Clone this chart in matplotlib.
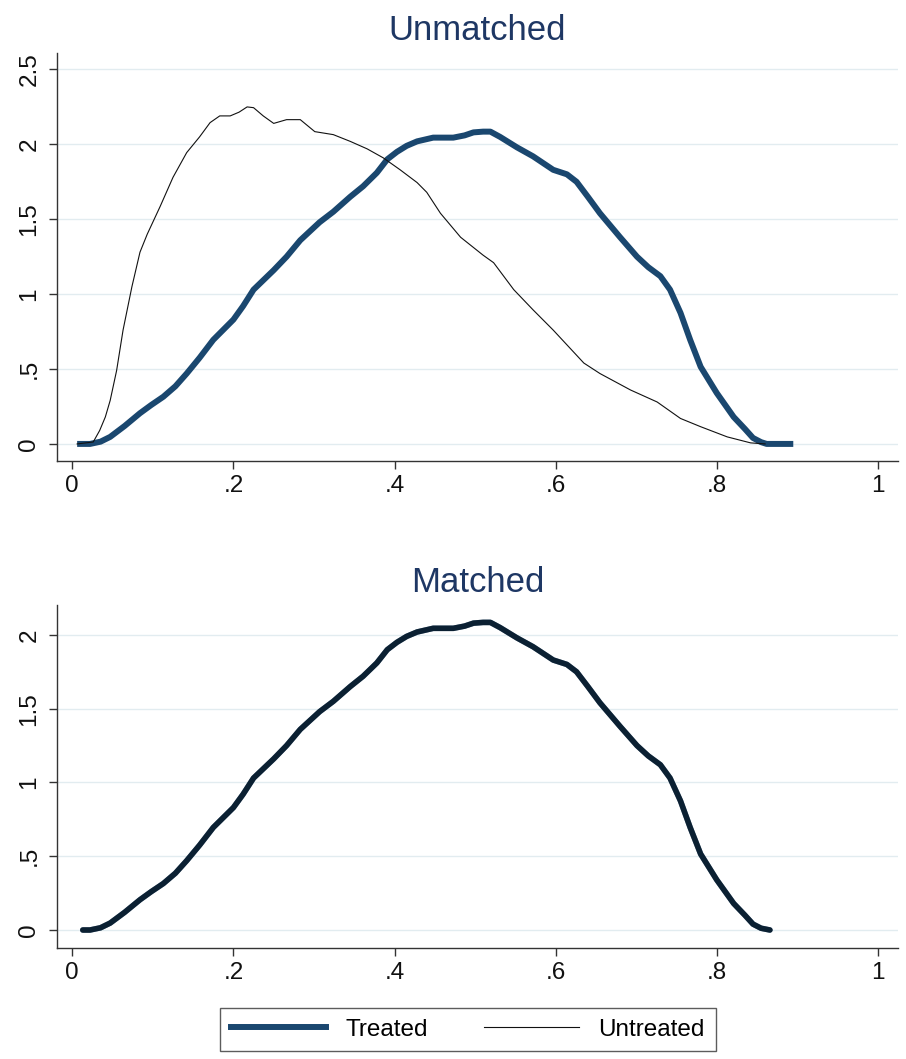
import matplotlib
matplotlib.use("Agg")
import matplotlib.pyplot as plt
from matplotlib.lines import Line2D

plt.rcParams['font.family'] = ['Liberation Sans', 'DejaVu Sans']

# ---- data ----
treated_x = [0.006, 0.022, 0.035, 0.047, 0.065, 0.084, 0.098, 0.113, 0.128, 0.142, 0.158,
             0.175, 0.2, 0.212, 0.225, 0.25, 0.266, 0.283, 0.307, 0.324, 0.345, 0.361,
             0.378, 0.391, 0.403, 0.415, 0.428, 0.448, 0.473, 0.487, 0.498, 0.51, 0.519,
             0.531, 0.552, 0.572, 0.597, 0.614, 0.626, 0.64, 0.655, 0.68, 0.701, 0.715,
             0.73, 0.742, 0.755, 0.767, 0.78, 0.8, 0.821, 0.835, 0.845, 0.855, 0.862,
             0.875, 0.895]
treated_y = [0.0, 0.0, 0.015, 0.047, 0.12, 0.205, 0.26, 0.315, 0.385, 0.47, 0.575,
             0.695, 0.83, 0.92, 1.03, 1.16, 1.25, 1.36, 1.48, 1.55, 1.65, 1.72,
             1.81, 1.9, 1.95, 1.99, 2.02, 2.045, 2.045, 2.06, 2.08, 2.085, 2.085,
             2.05, 1.98, 1.92, 1.83, 1.80, 1.75, 1.65, 1.54, 1.38, 1.25, 1.18,
             1.12, 1.03, 0.875, 0.695, 0.515, 0.34, 0.18, 0.1, 0.04, 0.012, 0.0,
             0.0, 0.0]

untreated_x = [0.006, 0.026, 0.034, 0.041, 0.047, 0.055, 0.063, 0.074, 0.084, 0.093, 0.109,
               0.125, 0.142, 0.158, 0.171, 0.183, 0.196, 0.207, 0.217, 0.225, 0.237,
               0.25, 0.266, 0.283, 0.301, 0.324, 0.345, 0.366, 0.386, 0.407, 0.428,
               0.44, 0.457, 0.482, 0.51, 0.523, 0.548, 0.572, 0.597, 0.635, 0.655,
               0.693, 0.726, 0.755, 0.78, 0.813, 0.842, 0.86]
untreated_y = [0.0, 0.013, 0.09, 0.18, 0.29, 0.49, 0.76, 1.05, 1.28, 1.40, 1.585,
               1.78, 1.945, 2.05, 2.145, 2.19, 2.19, 2.215, 2.25, 2.245, 2.19,
               2.14, 2.165, 2.165, 2.085, 2.065, 2.02, 1.97, 1.91, 1.83, 1.745,
               1.68, 1.54, 1.38, 1.26, 1.21, 1.03, 0.895, 0.76, 0.54, 0.47,
               0.36, 0.28, 0.17, 0.115, 0.047, 0.007, 0.0]

matched_x = [0.013, 0.022, 0.035, 0.047, 0.065, 0.084, 0.098, 0.113, 0.128, 0.142, 0.158,
             0.175, 0.2, 0.212, 0.225, 0.25, 0.266, 0.283, 0.307, 0.324, 0.345, 0.361,
             0.378, 0.391, 0.403, 0.415, 0.428, 0.448, 0.473, 0.487, 0.498, 0.51, 0.519,
             0.531, 0.552, 0.572, 0.597, 0.614, 0.626, 0.64, 0.655, 0.68, 0.701, 0.715,
             0.73, 0.742, 0.755, 0.767, 0.78, 0.8, 0.821, 0.835, 0.845, 0.855, 0.866]
matched_y = [0.0, 0.0, 0.015, 0.047, 0.12, 0.205, 0.26, 0.315, 0.385, 0.47, 0.575,
             0.695, 0.83, 0.92, 1.03, 1.16, 1.25, 1.36, 1.48, 1.55, 1.65, 1.72,
             1.81, 1.9, 1.95, 1.99, 2.02, 2.045, 2.045, 2.06, 2.08, 2.085, 2.085,
             2.05, 1.98, 1.92, 1.83, 1.80, 1.75, 1.65, 1.54, 1.38, 1.25, 1.18,
             1.12, 1.03, 0.875, 0.695, 0.515, 0.34, 0.18, 0.1, 0.04, 0.012, 0.0]

x_ticks = [0, 0.2, 0.4, 0.6, 0.8, 1.0]
x_ticklabels = ["0", ".2", ".4", ".6", ".8", "1"]
y_ticks_top = [0, 0.5, 1, 1.5, 2, 2.5]
y_ticklabels_top = ["0", ".5", "1", "1.5", "2", "2.5"]
y_ticks_bot = [0, 0.5, 1, 1.5, 2]
y_ticklabels_bot = ["0", ".5", "1", "1.5", "2"]
titles = ["Unmatched", "Matched"]
series_names = ["Treated", "Untreated"]

# ---- style ----
BLUE = '#1a476f'
TITLE_C = '#1e3764'
GRID_C = '#e2ecf0'
AX_C = '#333333'
FS = 17.5

fig = plt.figure(figsize=(9.06, 10.59), dpi=100)
ax1 = fig.add_axes([57/906, 1-461/1059, (898-57)/906, (461-53)/1059])
ax2 = fig.add_axes([57/906, 1-948/1059, (898-57)/906, (948-605)/1059])

def style(ax, yticks, ylabels, ylim, title):
    ax.set_xlim(-0.019, 1.025)
    ax.set_ylim(*ylim)
    ax.set_xticks(x_ticks)
    ax.set_xticklabels(x_ticklabels)
    ax.set_yticks(yticks)
    ax.set_yticklabels(ylabels, rotation=90, va='center')
    for s in ['top', 'right']:
        ax.spines[s].set_visible(False)
    for s in ['left', 'bottom']:
        ax.spines[s].set_color(AX_C)
        ax.spines[s].set_linewidth(1.0)
    ax.tick_params(axis='both', direction='out', length=6, width=1.0,
                   color=AX_C, labelsize=FS, labelcolor='#111111')
    ax.tick_params(axis='y', pad=6)
    ax.tick_params(axis='x', pad=4)
    ax.grid(axis='y', color=GRID_C, linewidth=1.0)
    ax.set_axisbelow(True)
    ax.set_title(title, fontsize=25, color=TITLE_C, pad=9)

style(ax1, y_ticks_top, y_ticklabels_top, (-0.114, 2.61), titles[0])
style(ax2, y_ticks_bot, y_ticklabels_bot, (-0.122, 2.203), titles[1])

ax1.plot(treated_x, treated_y, color=BLUE, lw=4.3, solid_capstyle='butt', zorder=3)
ax1.plot(untreated_x, untreated_y, color='#111111', lw=0.8, zorder=4)

ax2.plot(matched_x, matched_y, color=BLUE, lw=4.0, solid_capstyle='round', zorder=3)
ax2.plot(matched_x, matched_y, color='#000000', lw=4.0, alpha=0.55,
         solid_capstyle='round', zorder=4)

handles = [Line2D([], [], color=BLUE, lw=4.3),
           Line2D([], [], color='#111111', lw=0.8)]
leg = fig.legend(handles, series_names, loc='center', ncol=2,
                 bbox_to_anchor=(468/906, 1-1029.5/1059),
                 fontsize=FS, frameon=True, fancybox=False,
                 handlelength=3.9, handletextpad=0.8, columnspacing=2.3,
                 borderpad=0.45, borderaxespad=0)
leg.get_frame().set_edgecolor('#333333')
leg.get_frame().set_linewidth(1.0)

fig.savefig('out.png', dpi=100, facecolor='white')
